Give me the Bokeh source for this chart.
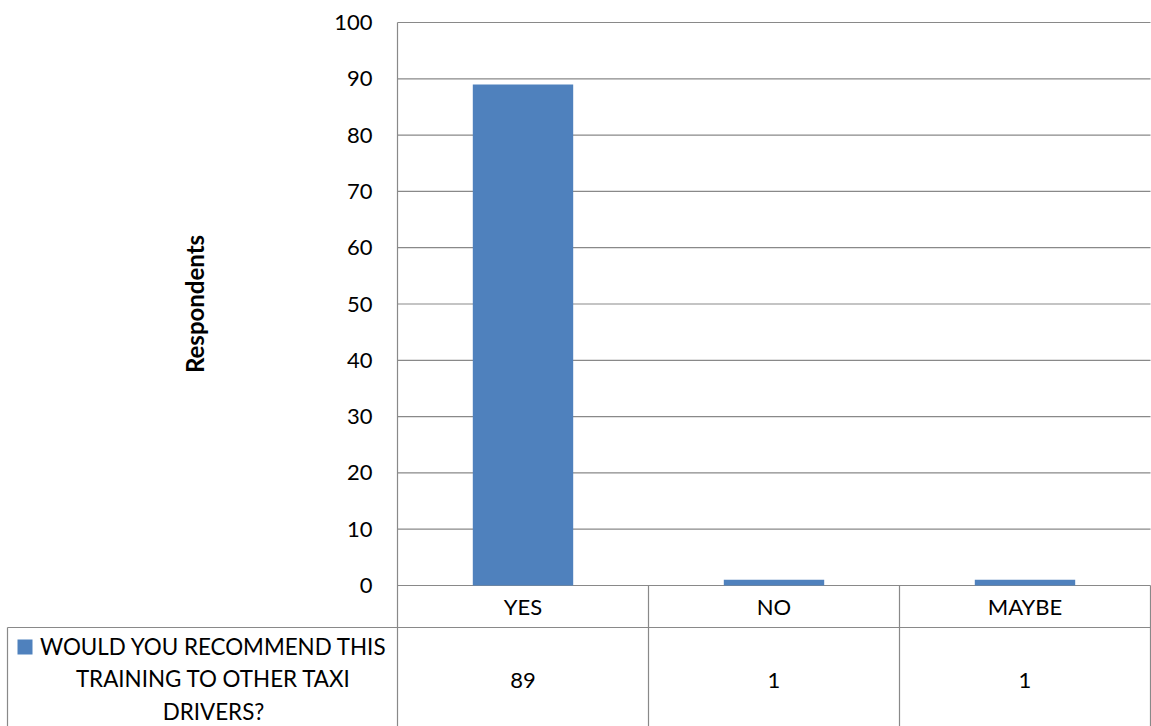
import math

from bokeh.plotting import figure
from bokeh.models import Range1d, LinearAxis, FixedTicker
from bokeh.core.properties import value
from bokeh.embed import file_html
from bokeh.resources import INLINE

# ---- data ----
categories = ["YES", "NO", "MAYBE"]
respondents = [89, 1, 1]
series_lines = ["WOULD YOU RECOMMEND THIS", "TRAINING TO OTHER TAXI", "DRIVERS?"]
y_ticks = [0, 10, 20, 30, 40, 50, 60, 70, 80, 90, 100]
y_title = "Respondents"

# ---- layout (pixels on the canvas) ----
W, H = 1151, 726
AREA_LEFT, AREA_RIGHT, AREA_TOP, AREA_ZERO = 397, 1150, 22, 585
ROW_SPLIT = 627          # line between the category row and the value row
CELL_LEFT = 7            # left edge of the series cell of the data table
Y_MAX = y_ticks[-1]

cat_w = (AREA_RIGHT - AREA_LEFT) / len(categories)
px_per_unit = (AREA_ZERO - AREA_TOP) / Y_MAX


def px_x(px):
    return (px - AREA_LEFT) / cat_w


def px_y(py):
    return (AREA_ZERO - py) / px_per_unit


x_start, x_end = px_x(0), px_x(W)
y_start, y_end = px_y(H), px_y(0)

FONT = "Lato"
GRID = "#898989"
BAR = "#4F81BD"

p = figure(width=W, height=H,
           x_range=Range1d(x_start, x_end), y_range=Range1d(y_start, y_end),
           x_axis_type=None, y_axis_type=None,
           output_backend="svg", toolbar_location=None,
           min_border=0, outline_line_color=None)
p.background_fill_color = "white"
p.border_fill_color = "white"

n = len(categories)
centers = [i + 0.5 for i in range(n)]
edges = [float(i) for i in range(n + 1)]

# horizontal gridlines across the plot area
p.segment(x0=[0] * len(y_ticks), x1=[n] * len(y_ticks), y0=y_ticks, y1=y_ticks,
          line_color=GRID, line_width=1.2)

# bars
p.vbar(x=centers, top=respondents, bottom=0, width=0.4,
       fill_color=BAR, line_color=None)

# data table below the plot area
row_y = px_y(ROW_SPLIT)
cell_x = px_x(CELL_LEFT)
p.segment(x0=[cell_x], x1=[n], y0=[row_y], y1=[row_y], line_color=GRID, line_width=1.2)
p.segment(x0=edges[1:], x1=edges[1:], y0=[0] * n, y1=[y_start] * n,
          line_color=GRID, line_width=1.2)
p.segment(x0=[cell_x], x1=[cell_x], y0=[row_y], y1=[y_start],
          line_color=GRID, line_width=1.2)

# category names and values in the table
p.text(x=centers, y=[row_y / 2] * n, text=categories,
       text_font=value(FONT), text_font_size="22px", text_color="black",
       text_align="center", text_baseline="middle")
p.text(x=centers, y=[px_y(680)] * n, text=[str(v) for v in respondents],
       text_font=value(FONT), text_font_size="22px", text_color="black",
       text_align="center", text_baseline="middle")

# series key and name
p.scatter(x=[px_x(24.5)], y=[px_y(646.5)], marker="square", size=15,
          fill_color=BAR, line_color=None)
line_y = [px_y(v) for v in (645.5, 678.0, 710.5)]
p.text(x=[px_x(213)] * len(series_lines), y=line_y, text=series_lines,
       text_font=value(FONT), text_font_size="22.4px", text_color="black",
       text_align="center", text_baseline="middle")

# value axis, pinned at the left edge of the plot area
yaxis = LinearAxis(fixed_location=0, bounds=(y_start, Y_MAX),
                   ticker=FixedTicker(ticks=y_ticks),
                   axis_line_color=GRID, axis_line_width=1.2,
                   major_tick_in=0, major_tick_out=0,
                   minor_tick_in=0, minor_tick_out=0,
                   major_label_standoff=25,
                   major_label_text_font=FONT, major_label_text_font_size="22px",
                   major_label_text_color="black")
p.add_layout(yaxis, "left")

# value axis title, centred on the plot area
p.text(x=[px_x(193.5)], y=[Y_MAX / 2], text=[y_title], angle=math.pi / 2,
       text_font=value(FONT), text_font_size="24px", text_font_style="bold",
       text_color="black", text_align="center", text_baseline="middle")

open("out.html", "w").write(file_html(p, INLINE))
